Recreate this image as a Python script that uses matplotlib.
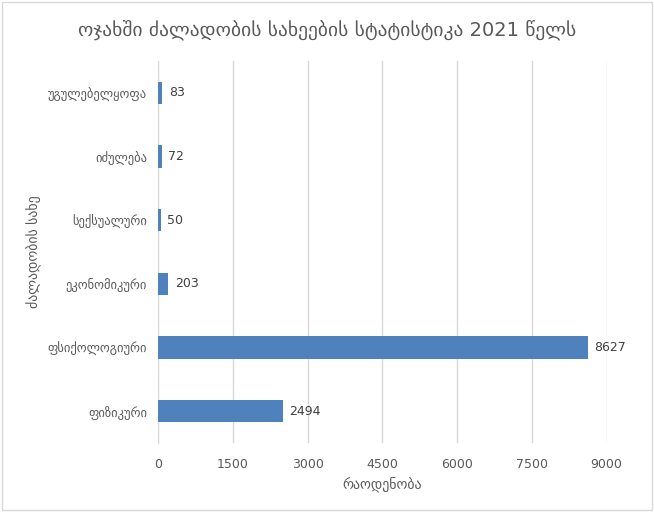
import numpy as np
import matplotlib
matplotlib.use("Agg")
import matplotlib.pyplot as plt

plt.rcParams['font.family'] = ['DejaVu Sans']

categories = ["ფიზიკური", "ფსიქოლოგიური", "ეკონომიკური", "სექსუალური", "იძულება", "უგულებელყოფა"]
values = [2494, 8627, 203, 50, 72, 83]
xticks = [0, 1500, 3000, 4500, 6000, 7500, 9000]

txt = '#595959'
fig = plt.figure(figsize=(6.54, 5.12), dpi=100)
ax = fig.add_axes([0.242, 0.1348, 0.6856, 0.7461])

y = np.arange(len(categories))
ax.barh(y, values, height=0.35, color='#4F81BD', zorder=3)
for yi, v in zip(y, values):
    ax.text(v + 130, yi, str(v), va='center', ha='left', fontsize=9, color='#404040')

ax.set_xlim(0, 9000)
ax.set_ylim(-0.5, len(categories) - 0.5)
ax.set_xticks(xticks)
ax.set_xticklabels([str(t) for t in xticks], fontsize=9, color=txt)
ax.set_yticks(y)
ax.set_yticklabels(categories, fontsize=9, color=txt)
ax.tick_params(axis='x', length=0, pad=11)
ax.tick_params(axis='y', length=0, pad=8)
ax.xaxis.grid(True, color='#D9D9D9', linewidth=1, zorder=0)
for s in ['top', 'right', 'bottom']:
    ax.spines[s].set_visible(False)
ax.spines['left'].set_color('#D9D9D9')

ax.set_xlabel("რაოდენობა", fontsize=10, color=txt, labelpad=4)
ax.set_ylabel("ძალადობის სახე", fontsize=10, color=txt, labelpad=4)
fig.suptitle("ოჯახში ძალადობის სახეების სტატისტიკა 2021 წელს", fontsize=14, color=txt, y=0.962)

# outer chart frame
fig.patches.append(plt.Rectangle((0.003, 0.003), 0.994, 0.994, transform=fig.transFigure,
                                 fill=False, edgecolor='#D9D9D9', linewidth=1))

fig.savefig("out.png", dpi=100)
